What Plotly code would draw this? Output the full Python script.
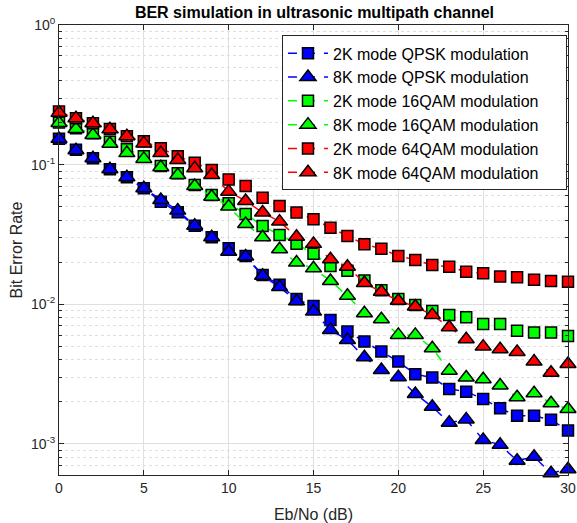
import plotly.graph_objects as go

# Eb/No axis (dB)
eb_no = list(range(31))

# BER values
ber_2k_qpsk = [0.153, 0.128, 0.111, 0.0927, 0.0812, 0.0678, 0.0543, 0.0456, 0.0366, 0.0302,
               0.0252, 0.0222, 0.0162, 0.0138, 0.0109, 0.00974, 0.00773, 0.00638, 0.00541, 0.00459,
               0.00389, 0.00316, 0.00299, 0.00248, 0.00237, 0.00210, 0.00180, 0.00159, 0.00159,
               0.00149, 0.00125]
ber_8k_qpsk = [0.153, 0.127, 0.111, 0.0927, 0.0812, 0.0678, 0.0559, 0.0469, 0.0366, 0.0302,
               0.0238, 0.0220, 0.0160, 0.0133, 0.0105, 0.00887, 0.00656, 0.00556, 0.00418, 0.00339,
               0.00301, 0.00228, 0.00185, 0.00142, 0.00150, 0.00107, 0.000986, 0.00076, 0.00081,
               0.000618, 0.00066]
ber_2k_16qam = [0.200, 0.182, 0.168, 0.146, 0.129, 0.115, 0.098, 0.0867, 0.0716, 0.0607,
                0.0529, 0.0444, 0.0364, 0.0314, 0.0271, 0.0230, 0.0188, 0.0174, 0.0148, 0.0126,
                0.0109, 0.0099, 0.00897, 0.0084, 0.00809, 0.00724, 0.00724, 0.00648, 0.00628,
                0.00628, 0.00594]
ber_8k_16qam = [0.199, 0.180, 0.163, 0.141, 0.121, 0.110, 0.0958, 0.0844, 0.0704, 0.0590,
                0.0501, 0.0376, 0.0302, 0.0248, 0.0199, 0.0181, 0.0147, 0.0115, 0.00863, 0.00782,
                0.00604, 0.00604, 0.00485, 0.00335, 0.00299, 0.00291, 0.00262, 0.00216, 0.00231,
                0.00196, 0.00178]
ber_2k_64qam = [0.240, 0.215, 0.198, 0.180, 0.160, 0.147, 0.131, 0.115, 0.103, 0.0917,
                0.0784, 0.0704, 0.058, 0.0506, 0.0454, 0.0407, 0.0354, 0.0309, 0.0269, 0.0250,
                0.0222, 0.0208, 0.0191, 0.0186, 0.0171, 0.0167, 0.0158, 0.0156, 0.0150,
                0.0147, 0.0145]
ber_8k_64qam = [0.235, 0.215, 0.198, 0.179, 0.160, 0.142, 0.121, 0.108, 0.0942, 0.0844,
                0.0641, 0.055, 0.0454, 0.0391, 0.0305, 0.0271, 0.0210, 0.0186, 0.0142, 0.0123,
                0.0106, 0.00964, 0.0084, 0.00686, 0.00562, 0.00498, 0.00477, 0.00456, 0.00389,
                0.00324, 0.00374]

# decade tick labels on the BER axis
y_tick_vals = [1, 0.1, 0.01, 0.001]
y_tick_text = ["10<sup>0</sup>", "10<sup>-1</sup>", "10<sup>-2</sup>", "10<sup>-3</sup>"]

series = [
    ("2K mode QPSK modulation", ber_2k_qpsk, "#0000ff", "square"),
    ("8K mode QPSK modulation", ber_8k_qpsk, "#0000ff", "triangle-up"),
    ("2K mode 16QAM modulation", ber_2k_16qam, "#00ff00", "square"),
    ("8K mode 16QAM modulation", ber_8k_16qam, "#00ff00", "triangle-up"),
    ("2K mode 64QAM modulation", ber_2k_64qam, "#ff0000", "square"),
    ("8K mode 64QAM modulation", ber_8k_64qam, "#ff0000", "triangle-up"),
]

font = "Liberation Sans, Arial, sans-serif"
axis_col = "#262626"
grid_col = "#dfdfdf"
pad = "\u00a0" * 5  # extra room on the right of the legend box, like the original

fig = go.Figure()
for name, ber, col, sym in series:
    fig.add_trace(go.Scatter(
        x=eb_no, y=ber, name=name + pad, mode="lines+markers",
        line=dict(color=col, width=1.5, dash="dash"),
        marker=dict(symbol=sym, color=col, size=11 if sym == "square" else 14,
                    line=dict(color="black", width=1.5)),
        cliponaxis=False,
    ))

fig.update_xaxes(
    range=[0, 30], dtick=5, showline=True, linecolor=axis_col, linewidth=1,
    mirror="ticks", ticks="inside", ticklen=5, tickcolor=axis_col,
    showgrid=True, gridcolor=grid_col, zeroline=False,
    tickfont=dict(size=14, color=axis_col, family=font),
    title_text="Eb/No (dB)", title_standoff=14,
    title_font=dict(size=16, color=axis_col, family=font),
)
fig.update_yaxes(
    type="log", range=[-3.222, 0],
    tickmode="array", tickvals=y_tick_vals, ticktext=y_tick_text,
    showline=True, linecolor=axis_col, linewidth=1, mirror="ticks",
    ticks="inside", ticklen=5, tickcolor=axis_col,
    showgrid=True, gridcolor=grid_col, zeroline=False,
    minor=dict(dtick="D1", showgrid=True, gridcolor=grid_col, griddash="dot",
               ticks="inside", ticklen=3, tickcolor=axis_col),
    tickfont=dict(size=14, color=axis_col, family=font),
    title_text="Bit Error Rate", title_standoff=4,
    title_font=dict(size=16, color=axis_col, family=font),
)

fig.update_layout(
    width=577, height=523,
    margin=dict(l=59, r=9, t=25, b=48, autoexpand=False),
    paper_bgcolor="white", plot_bgcolor="white",
    font=dict(family=font, color=axis_col),
    title=dict(text="<b>BER simulation in ultrasonic multipath channel</b>",
               x=0.545, xanchor="center", y=0.977, yanchor="middle",
               font=dict(size=16, color="black", family=font)),
    legend=dict(x=0.998, xanchor="right", y=0.977, yanchor="top",
                bgcolor="white", bordercolor=axis_col, borderwidth=1,
                font=dict(size=16, color="black", family=font),
                itemwidth=40, tracegroupgap=0),
    showlegend=True,
)

fig.write_html("out.html", config={"displayModeBar": False},
               post_script="document.body.style.margin='0';")
